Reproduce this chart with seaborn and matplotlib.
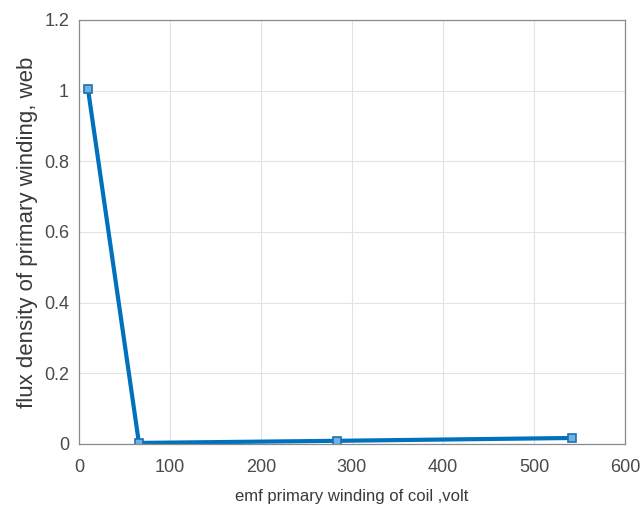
import matplotlib
matplotlib.use("Agg")
import matplotlib.pyplot as plt
import seaborn as sns
import pandas as pd

emf_volt = [10, 66, 284, 542]
flux_web = [1.005, 0.003, 0.009, 0.017]
x_ticks = [0, 100, 200, 300, 400, 500, 600]
y_ticks = [0, 0.2, 0.4, 0.6, 0.8, 1, 1.2]
y_tick_labels = ["0", "0.2", "0.4", "0.6", "0.8", "1", "1.2"]

sns.set_theme(style="whitegrid")
plt.rcParams["font.family"] = ["Liberation Sans", "DejaVu Sans"]

df = pd.DataFrame({"emf": emf_volt, "flux": flux_web})

fig = plt.figure(figsize=(6.41, 5.08), dpi=100)
ax = fig.add_axes([0.123, 0.126, 0.852, 0.835])

sns.lineplot(data=df, x="emf", y="flux", ax=ax, color="#0072BD", linewidth=3,
             marker="s", markersize=6, markerfacecolor="#6fb3e6",
             markeredgecolor="#1f6fae", markeredgewidth=1.2, sort=False)

ax.set_xlim(0, 600)
ax.set_ylim(0, 1.2)
ax.set_xticks(x_ticks)
ax.set_yticks(y_ticks)
ax.set_yticklabels(y_tick_labels)
ax.grid(True, color="#e3e3e3", linewidth=0.8)
for s in ax.spines.values():
    s.set_visible(True)
    s.set_color("#8a8a8a")
    s.set_linewidth(0.9)
ax.set_facecolor("white")
ax.tick_params(axis="x", colors="#4a4a4a", labelsize=13, length=0, pad=11)
ax.tick_params(axis="y", colors="#4a4a4a", labelsize=13, length=0, pad=7)
ax.set_xlabel("emf primary winding of coil ,volt", fontsize=12, color="#3a3a3a", labelpad=9)
ax.set_ylabel("flux density of primary winding, web", fontsize=16, color="#3a3a3a", labelpad=4)

fig.savefig("out.png", dpi=100)
